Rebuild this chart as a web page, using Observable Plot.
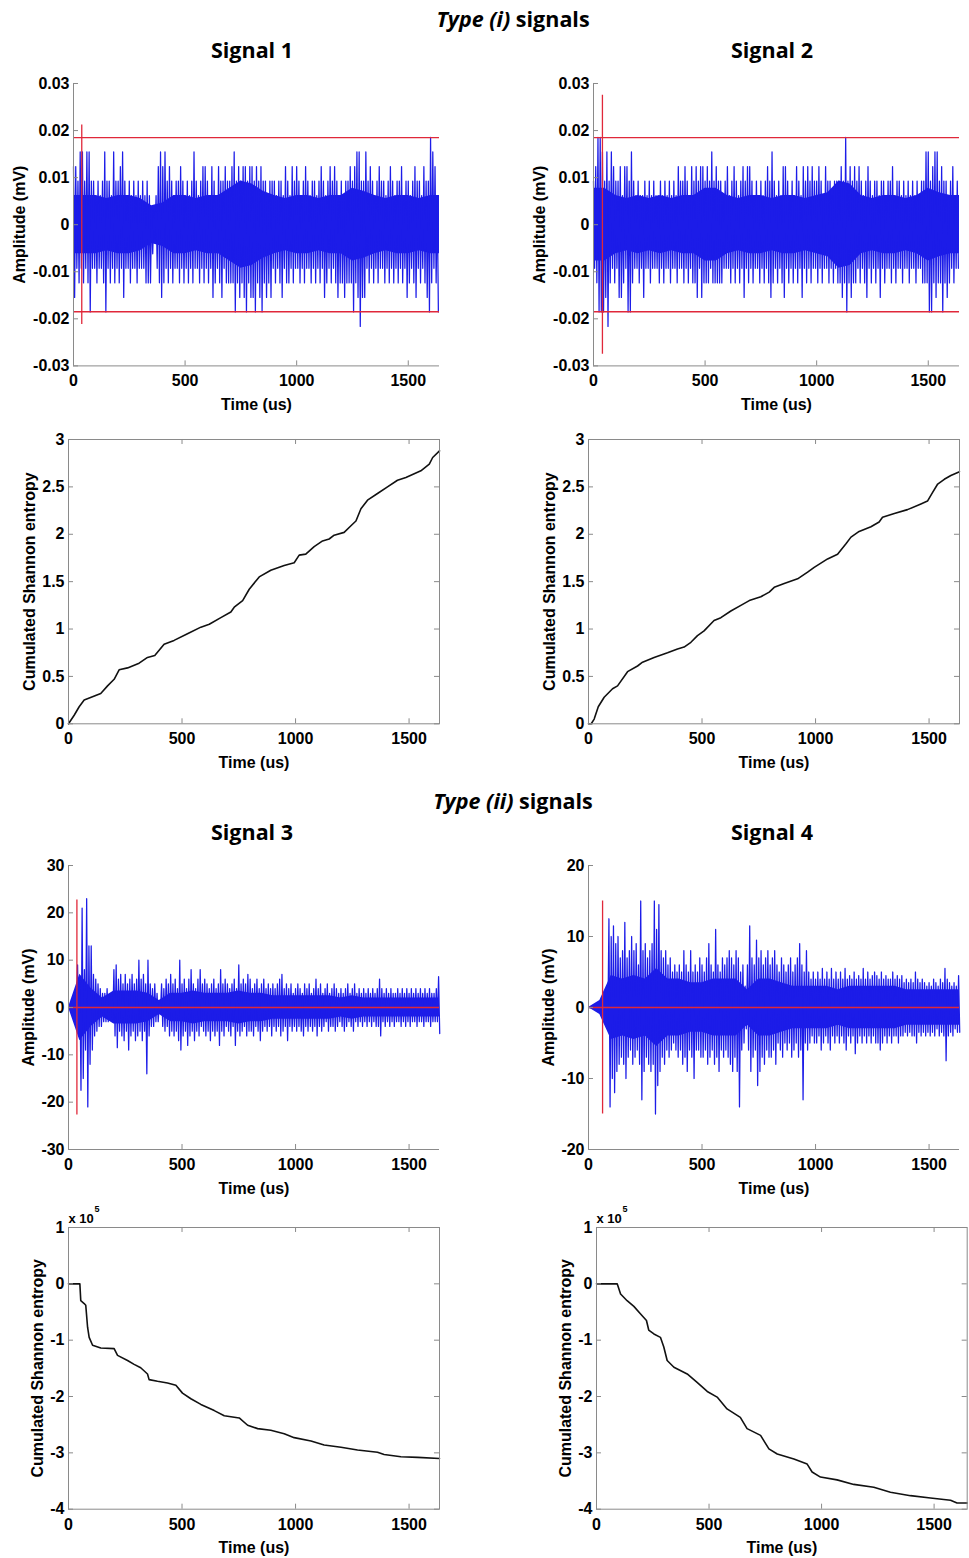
<!DOCTYPE html>
<html><head><meta charset="utf-8">
<script src="https://cdn.jsdelivr.net/npm/d3@7"></script>
<script src="https://cdn.jsdelivr.net/npm/@observablehq/plot@0.6"></script>
<style>
body{margin:0;background:#fff;}
#fig{position:relative;width:969px;height:1558px;background:#fff;overflow:hidden;}
.ttl{position:absolute;font-family:"Open Sans",Lato,sans-serif;font-weight:700;font-size:21.5px;line-height:1;white-space:nowrap;transform:translateX(-50%);color:#000;}
</style></head><body><div id="fig"></div>
<script>
// ---------- tick values / labels ----------
const timeTicks = [0, 500, 1000, 1500];
const ampTicksI = [-0.03, -0.02, -0.01, 0, 0.01, 0.02, 0.03];
const ampLabelsI = ["-0.03", "-0.02", "-0.01", "0", "0.01", "0.02", "0.03"];
const entTicksI = [0, 0.5, 1, 1.5, 2, 2.5, 3];
const entLabelsI = ["0", "0.5", "1", "1.5", "2", "2.5", "3"];
const ampTicks3 = [-30, -20, -10, 0, 10, 20, 30];
const ampTicks4 = [-20, -10, 0, 10, 20];
const entTicksII = [-4, -3, -2, -1, 0, 1];

// ---------- type (i) signals: per-10us-bin max / min, in ADC steps ----------
const adcStep = 0.00309; // mV per quantisation step
const binUs = 10;
const coreUs = 50;
const sig1Hi = [4,4,3,5,5,3,5,5,3,3, 2,3,2,3,5,3,3,2,5,3, 3,4,5,3,2,3,2,3,2,3, 2,3,2,3,2,1,1,2,4,5,
  4,5,3,4,3,2,3,3,4,3, 2,3,2,3,5,3,2,3,4,4, 3,2,4,3,2,4,3,3,4,3, 3,4,5,3,4,3,4,4,3,4,
  4,3,4,3,4,3,3,2,3,3, 3,2,3,3,2,4,3,2,4,3, 4,3,2,3,4,3,2,3,3,2, 3,4,3,2,3,4,3,4,3,2,
  3,2,3,3,4,3,4,5,5,3, 3,5,3,4,3,2,3,4,3,3, 2,3,4,3,2,3,3,4,2,3, 3,2,3,4,3,3,2,4,3,3, 6,5,4,2];
const sig1Lo = [-5,-3,-4,-3,-4,-3,-4,-6,-3,-3, -4,-3,-3,-4,-6,-3,-4,-3,-4,-3, -4,-3,-5,-3,-3,-4,-3,-3,-4,-3,
  -3,-3,-4,-4,-4,-2,-1,-3,-4,-5, -4,-3,-4,-3,-4,-3,-3,-4,-3,-4, -3,-4,-3,-4,-3,-3,-4,-3,-4,-3,
  -4,-3,-5,-4,-3,-4,-5,-3,-4,-4, -4,-4,-6,-4,-5,-4,-5,-6,-4,-5, -5,-6,-4,-5,-6,-4,-5,-4,-5,-3,
  -4,-3,-4,-5,-3,-4,-4,-3,-4,-3, -3,-4,-3,-4,-3,-3,-4,-3,-4,-3, -4,-3,-5,-4,-3,-4,-3,-4,-5,-4,
  -4,-5,-4,-4,-4,-6,-4,-5,-7,-5, -5,-3,-4,-3,-4,-3,-4,-3,-3,-4, -3,-4,-3,-4,-3,-4,-3,-4,-3,-5,
  -4,-3,-4,-5,-3,-4,-3,-4,-5,-6, -4,-3,-4,-6];
// dense core half-width per 50us, ADC steps
const sig1Core = [2,2,2,1.8,2,2,1.8,1.3,1.5,2,2,1.8,2,2,2.5,3,2.8,2.3,2,1.8,2,2,1.8,2,2,2.5,2.3,2,1.8,2,2,1.8,2];
const sig2Hi = [3,4,6,6,5,3,5,3,5,4, 3,3,4,2,4,4,3,5,3,2, 3,2,2,3,2,3,2,3,2,2, 3,2,3,2,3,2,3,2,4,3,
  3,4,3,2,4,3,4,3,4,4, 3,4,3,5,3,4,3,3,2,3, 4,2,3,4,3,2,3,4,3,4, 4,3,2,3,2,3,2,3,4,3,
  5,3,2,3,2,4,4,3,2,3, 2,4,3,2,4,3,4,3,4,3, 3,4,3,2,4,3,3,2,3,3, 3,4,3,6,3,4,3,4,3,4,
  3,2,3,4,3,2,3,3,2,3, 3,2,3,3,4,2,3,3,2,3, 2,3,2,3,2,3,2,3,3,5, 5,3,4,5,5,3,4,3,3,2, 3,4,2,3];
const sig2Lo = [-3,-4,-6,-6,-6,-5,-7,-4,-3,-4, -3,-5,-5,-4,-3,-6,-6,-4,-3,-3, -4,-3,-5,-3,-3,-4,-3,-3,-3,-4,
  -3,-4,-3,-3,-4,-3,-3,-4,-3,-3, -4,-3,-4,-3,-4,-4,-5,-3,-5,-4, -4,-4,-3,-4,-4,-4,-4,-4,-3,-3,
  -3,-4,-3,-4,-3,-4,-3,-5,-3,-4, -3,-4,-3,-3,-4,-3,-4,-3,-4,-5, -4,-3,-4,-3,-4,-5,-3,-4,-3,-4,
  -3,-4,-3,-5,-3,-4,-3,-4,-3,-3, -4,-3,-4,-3,-3,-4,-3,-4,-3,-4, -4,-5,-4,-6,-4,-5,-4,-4,-3,-4,
  -3,-4,-5,-3,-4,-3,-4,-3,-5,-3, -4,-3,-3,-4,-3,-4,-3,-3,-4,-3, -3,-4,-3,-3,-4,-3,-3,-4,-4,-4,
  -6,-6,-4,-5,-4,-4,-6,-4,-5,-4, -3,-4,-3,-3];
const sig2Core = [2.5,2.5,2,1.8,2,1.8,2,1.8,2,2,2.5,2.5,2,1.8,2,2,1.8,2,2,1.8,2,2.2,3,2.8,2,1.8,2,2,1.8,2,2.5,2.2,2];

// ---------- type (ii) signals: per-10us-bin max / min, in mV ----------
const sig3Hi = [0,0,0,1,9,6,21,8,23,13, 13,7,6,5,4,3,3,4,2,3, 8,9,6,7,5,7,5,6,7,5, 6,10,6,7,5,10,5,4,5,3,
  1,5,4,6,5,7,5,6,4,10, 5,6,4,6,8,5,4,6,8,5, 6,5,4,5,6,4,5,8,5,6, 5,4,5,6,4,9,5,6,5,7,
  6,4,5,6,4,5,6,4,5,4, 5,4,5,6,7,4,5,4,5,3, 4,5,4,3,5,4,5,3,4,6, 4,5,3,4,5,3,4,5,4,3,
  4,3,4,5,3,4,5,3,4,3, 4,3,4,3,4,3,4,6,4,3, 4,3,4,3,3,4,3,4,3,4, 3,4,3,4,3,4,3,4,3,4, 3,3,4,6.5];
const sig3Lo = [0,0,0,-1,-6,-17.5,-15,-9,-21,-12, -9,-6,-5,-4,-4,-3,-3,-3,-2,-3, -6,-8.5,-5,-6,-7,-5,-9,-6,-5,-7,
  -6,-5,-7,-5,-14,-6,-4,-4,-3,-3, -1,-4,-5,-4,-6,-5,-6,-5,-7,-9, -6,-5,-8,-6,-5,-7,-5,-6,-4,-5,
  -6,-5,-7,-5,-6,-5,-8,-5,-6,-4, -5,-6,-4,-8,-5,-6,-5,-4,-6,-5, -5,-6,-4,-5,-7,-5,-4,-5,-4,-6,
  -4,-5,-4,-6,-5,-4,-7,-4,-5,-4, -5,-4,-5,-6,-4,-5,-4,-5,-4,-6, -4,-5,-4,-3,-5,-4,-4,-5,-4,-3,
  -4,-5,-4,-3,-4,-5,-3,-4,-3,-4, -3,-4,-3,-4,-3,-4,-4,-6,-3,-4, -3,-4,-3,-4,-3,-3,-4,-3,-4,-3,
  -4,-3,-3,-4,-3,-3,-4,-3,-3,-4, -3,-3,-3,-5.5];
const sig3Core = [0,7,4,2,3.5,3.5,3.5,3,1.5,3,3,3.5,3,3,3,3.5,3,3,2.5,2.5,2.5,2.5,2.5,2.5,2,2.5,2,2,2,2,2,2,2];
const sig4Hi = [0,0,0,0,0,0,1,1.5,3,12.5, 10,11.5,9,10,7,8,12,7,8,10, 8,9,6,15,8,9,7,8,9,15,
  11,14.5,8,7,8,6,7,5,6,5, 6,5,8,6,5,8,5,6,5,7, 6,5,7,9,6,5,11,6,5,7, 6,7,8,7,6,8,7,5,6,3,
  6,11.5,7,6,9.5,7,8,6,7,8, 6,7,8,6,5,7,6,5,6,7, 5,6,7,9,6,5,8,5,4,5, 4,5,4,5.5,4,5,4,5.5,4,5,
  4,5,4,5.5,4,4.5,4,5,4,4.5, 4,5.5,4,5,4,4.5,5,4.5,4,5, 4,4.5,4,4,5,4,4.5,4,4.5,3.5,
  4,3.5,4,3.5,5,4,3.5,4,3.5,3, 3.5,3,4,3.5,3,4,3.5,5.5,4,3.5, 3,3.5,3,4.5];
const sig4Lo = [0,0,0,0,0,0,-1,-1,-3,-14, -10,-12,-9,-8,-7,-8,-10,-7,-6,-8, -7,-6,-8,-13,-9,-7,-8,-9,-8,-15,
  -11,-9,-7,-8,-6,-7,-6,-5,-6,-7, -6,-8,-7,-9,-6,-7,-10,-6,-6,-7, -7,-6,-8,-7,-6,-8,-7,-9,-6,-7,
  -6,-7,-8,-9,-7,-9,-14,-6,-5,-3, -6,-9,-7,-6,-11,-9,-7,-8,-6,-7, -7,-6,-8,-5,-6,-7,-5,-6,-5,-7,
  -6,-5,-7,-6,-13,-5,-6,-5,-4,-5, -5,-4,-6,-5,-4,-5,-6,-4,-5,-4, -5,-4,-5,-6,-4,-5,-4,-6.5,-5,-4,
  -5,-4,-5,-4,-5,-4,-5,-5,-6,-5, -4,-5,-4,-5,-4,-4,-5,-4,-4,-3.5, -4,-3.5,-4,-4,-5,-3.5,-4,-3.5,-4,-3.5,
  -4,-3.5,-4,-3,-4,-3.5,-4,-7.5,-4,-3.5, -4,-3,-3.5,-3.5];
const sig4Core = [0,1,4.5,4,4.5,4,5.5,4,4,3.5,3.5,4,4,4,2.5,4,4,3.5,3,3,3,3,2.5,3,3,3,3,3,2.5,2.5,2.5,2.5,2.5];

// ---------- thresholds / onset markers (red) ----------
const thr1 = [-0.0185, 0.0185], onset1 = 37, onsetAmp1 = 0.0212;
const thr2 = [-0.0185, 0.0185], onset2 = 40, onsetAmp2 = 0.0275;
const thr3 = [0], onset3 = 37, onsetAmp3 = 22.7;
const thr4 = [0], onset4 = 62, onsetAmp4 = 15;

// ---------- cumulated Shannon entropy ----------
const ent1T = [0,25,47,69,100,142,172,201,223,260,311,348,380,421,465,524,583,620,671,715,730,767,796,840,891,950,994,1016,1045,1082,1119,1148,1170,1214,1244,1266,1288,1317,1361,1405,1449,1486,1552,1589,1604,1634];
const ent1V = [0,0.09,0.18,0.25,0.28,0.32,0.40,0.47,0.57,0.59,0.64,0.70,0.72,0.84,0.88,0.95,1.02,1.05,1.12,1.18,1.23,1.30,1.42,1.55,1.62,1.67,1.70,1.78,1.79,1.87,1.93,1.95,1.99,2.02,2.09,2.14,2.27,2.36,2.43,2.50,2.57,2.60,2.67,2.74,2.81,2.88];
const ent2T = [0,12,25,43,69,106,128,172,216,238,289,348,392,421,451,480,509,553,583,627,671,708,759,796,818,862,921,965,994,1053,1097,1134,1156,1192,1244,1280,1295,1347,1405,1464,1493,1515,1538,1567,1596,1634];
const ent2V = [0,0,0.05,0.18,0.28,0.37,0.40,0.55,0.61,0.65,0.70,0.75,0.79,0.81,0.86,0.93,0.98,1.09,1.12,1.19,1.25,1.30,1.34,1.39,1.44,1.48,1.53,1.60,1.65,1.74,1.79,1.90,1.97,2.03,2.08,2.13,2.18,2.22,2.26,2.32,2.35,2.44,2.53,2.58,2.62,2.66];
// type (ii): values in units of 1e5
const ent3T = [0,50,54,69,76,84,91,106,142,201,216,260,289,318,348,355,392,436,473,502,539,583,642,686,752,789,833,891,950,994,1068,1126,1200,1273,1361,1390,1464,1538,1634];
const ent3V = [0,0,-0.30,-0.35,-0.38,-0.77,-0.95,-1.09,-1.14,-1.15,-1.27,-1.36,-1.43,-1.49,-1.60,-1.70,-1.73,-1.76,-1.80,-1.94,-2.04,-2.14,-2.25,-2.34,-2.38,-2.51,-2.57,-2.60,-2.66,-2.73,-2.79,-2.86,-2.90,-2.95,-2.99,-3.03,-3.07,-3.08,-3.10];
const ent4T = [0,92,107,136,166,195,222,232,255,284,299,314,344,403,447,492,536,580,639,669,729,766,803,877,936,958,995,1069,1143,1232,1306,1395,1484,1573,1602,1647];
const ent4V = [0,0,-0.18,-0.30,-0.40,-0.53,-0.65,-0.82,-0.89,-0.95,-1.12,-1.36,-1.48,-1.60,-1.75,-1.91,-2.01,-2.22,-2.37,-2.57,-2.69,-2.93,-3.02,-3.11,-3.20,-3.34,-3.43,-3.48,-3.56,-3.61,-3.70,-3.76,-3.80,-3.84,-3.89,-3.89];

// ---------- drawing ----------
const fig = document.getElementById("fig");
const BLUE = "#1c1ce8", RED = "#e0283a", GRAY = "#8a8a8a", BLACK = "#111";
const ML = 70, MR = 12, MT = 26, MB = 56;

function envelope(hi, lo, k) {
  const pts = [];
  hi.forEach((h, i) => {
    pts.push({t: i * binUs, v: h * k});
    pts.push({t: i * binUs + binUs / 2, v: lo[i] * k});
  });
  return pts;
}
function coreBand(core, k, tEnd) {
  const pts = core.map((c, i) => ({t: i * coreUs, c: c * k}));
  pts.push({t: tEnd, c: core[core.length - 1] * k});
  return pts;
}
function pairs(T, V) { return T.map((t, i) => ({t, v: V[i]})); }

function addTitle(text, italic, x, top) {
  const d = document.createElement("div");
  d.className = "ttl";
  d.style.left = x + "px"; d.style.top = top + "px";
  if (italic) { const e = document.createElement("i"); e.textContent = italic; d.appendChild(e); d.appendChild(document.createTextNode(" " + text)); }
  else d.textContent = text;
  fig.appendChild(d);
}

function panel(p) {
  const fw = p.R - p.L, fh = p.B - p.T;
  const fmt = d => p.yLabels ? p.yLabels[p.yTicks.indexOf(d)] : String(d);
  const marks = [...p.data];
  marks.push(Plot.ruleX(timeTicks, {stroke: GRAY, insetTop: fh - 5}));
  marks.push(Plot.ruleY(p.yTicks, {stroke: GRAY, insetRight: fw - 5}));
  if (p.box) {
    marks.push(Plot.ruleX(timeTicks, {stroke: GRAY, insetBottom: fh - 5}));
    marks.push(Plot.ruleY(p.yTicks, {stroke: GRAY, insetLeft: fw - 5}));
    marks.push(Plot.frame({stroke: GRAY}));
  } else {
    marks.push(Plot.ruleX([p.xDomain[0]], {stroke: GRAY}));
    marks.push(Plot.ruleY([p.yDomain[0]], {stroke: GRAY}));
  }
  marks.push(Plot.axisX({ticks: timeTicks, tickSize: 0, tickPadding: 9, tickFormat: d => String(d),
    label: "Time (us)", labelAnchor: "center", labelArrow: "none", labelOffset: 44}));
  marks.push(Plot.axisY({ticks: p.yTicks, tickSize: 0, tickPadding: 4, tickFormat: fmt,
    label: p.yLabel, labelAnchor: "center", labelArrow: "none", labelOffset: p.yOff}));
  if (p.exp) {
    marks.push(Plot.text(["x 10"], {frameAnchor: "top-left", textAnchor: "start", lineAnchor: "bottom", dy: -4, fontSize: 13}));
    marks.push(Plot.text(["5"], {frameAnchor: "top-left", textAnchor: "start", lineAnchor: "bottom", dx: 26, dy: -15, fontSize: 9}));
  }
  const svg = Plot.plot({
    width: fw + ML + MR, height: fh + MT + MB,
    marginLeft: ML, marginRight: MR, marginTop: MT, marginBottom: MB,
    style: {fontFamily: "'Liberation Sans', Arial, sans-serif", fontSize: "16px", fontWeight: "bold", color: "#000", background: "transparent", overflow: "visible"},
    x: {domain: p.xDomain},
    y: {domain: p.yDomain},
    marks
  });
  svg.style.position = "absolute";
  svg.style.left = (p.L - ML) + "px";
  svg.style.top = (p.T - MT) + "px";
  fig.appendChild(svg);
}

function signalMarks(series, core, thr, onset, onsetAmp, redW) {
  return [
    Plot.areaY(core, {x: "t", y1: d => -d.c, y2: d => d.c, fill: BLUE}),
    Plot.line(series, {x: "t", y: "v", stroke: BLUE, strokeWidth: 1.25}),
    Plot.ruleY(thr, {stroke: RED, strokeWidth: redW}),
    Plot.ruleX([onset], {y1: -onsetAmp, y2: onsetAmp, stroke: RED, strokeWidth: 1.3})
  ];
}
function entropyMarks(series) {
  return [Plot.line(series, {x: "t", y: "v", stroke: BLACK, strokeWidth: 1.6})];
}

addTitle("signals", "Type (i)", 513, 8);
addTitle("Signal 1", null, 252, 39);
addTitle("Signal 2", null, 772, 39);
addTitle("signals", "Type (ii)", 513, 790);
addTitle("Signal 3", null, 252, 821);
addTitle("Signal 4", null, 772, 821);

panel({L: 72.7, R: 438.7, T: 83.3, B: 365.7, xDomain: [0, 1640], yDomain: [-0.03, 0.03], yTicks: ampTicksI, yLabels: ampLabelsI,
  yLabel: "Amplitude (mV)", yOff: 60, box: false,
  data: signalMarks(envelope(sig1Hi, sig1Lo, adcStep), coreBand(sig1Core, adcStep, 1640), thr1, onset1, onsetAmp1, 1.3)});
panel({L: 593.3, R: 959.3, T: 83.3, B: 365.7, xDomain: [0, 1640], yDomain: [-0.03, 0.03], yTicks: ampTicksI, yLabels: ampLabelsI,
  yLabel: "Amplitude (mV)", yOff: 60, box: false,
  data: signalMarks(envelope(sig2Hi, sig2Lo, adcStep), coreBand(sig2Core, adcStep, 1640), thr2, onset2, onsetAmp2, 1.3)});
panel({L: 67.7, R: 438.7, T: 439, B: 723.3, xDomain: [0, 1634], yDomain: [0, 3], yTicks: entTicksI, yLabels: entLabelsI,
  yLabel: "Cumulated Shannon entropy", yOff: 45, box: true, data: entropyMarks(pairs(ent1T, ent1V))});
panel({L: 587.7, R: 958.7, T: 439, B: 723.3, xDomain: [0, 1634], yDomain: [0, 3], yTicks: entTicksI, yLabels: entLabelsI,
  yLabel: "Cumulated Shannon entropy", yOff: 45, box: true, data: entropyMarks(pairs(ent2T, ent2V))});
panel({L: 67.7, R: 438.7, T: 865, B: 1149, xDomain: [0, 1634], yDomain: [-30, 30], yTicks: ampTicks3,
  yLabel: "Amplitude (mV)", yOff: 46, box: false,
  data: signalMarks(envelope(sig3Hi, sig3Lo, 1), coreBand(sig3Core, 1, 1634), thr3, onset3, onsetAmp3, 1.6)});
panel({L: 587.7, R: 958.7, T: 865, B: 1149, xDomain: [0, 1634], yDomain: [-20, 20], yTicks: ampTicks4,
  yLabel: "Amplitude (mV)", yOff: 46, box: false,
  data: signalMarks(envelope(sig4Hi, sig4Lo, 1), coreBand(sig4Core, 1, 1634), thr4, onset4, onsetAmp4, 1.6)});
panel({L: 67.7, R: 438.7, T: 1227.3, B: 1509, xDomain: [0, 1634], yDomain: [-4, 1], yTicks: entTicksII,
  yLabel: "Cumulated Shannon entropy", yOff: 37, box: true, exp: true, data: entropyMarks(pairs(ent3T, ent3V))});
panel({L: 596, R: 966.7, T: 1227.3, B: 1509, xDomain: [0, 1647], yDomain: [-4, 1], yTicks: entTicksII,
  yLabel: "Cumulated Shannon entropy", yOff: 37, box: true, exp: true, data: entropyMarks(pairs(ent4T, ent4V))});
</script></body></html>
